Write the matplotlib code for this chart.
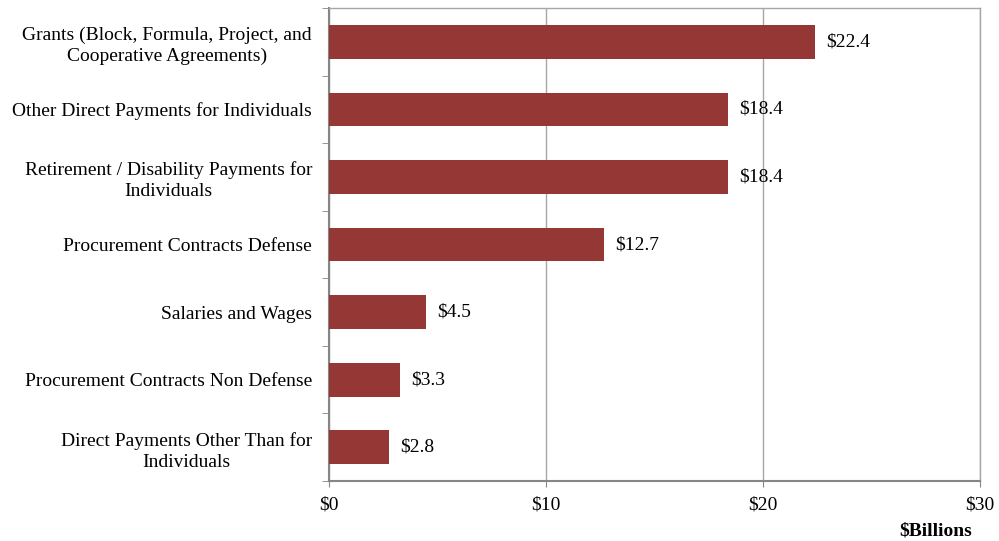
import numpy as np
import matplotlib.pyplot as plt

plt.rcParams['font.family'] = ['Liberation Serif', 'DejaVu Serif']

categories = [
    "Grants (Block, Formula, Project, and\nCooperative Agreements)",
    "Other Direct Payments for Individuals",
    "Retirement / Disability Payments for\nIndividuals",
    "Procurement Contracts Defense",
    "Salaries and Wages",
    "Procurement Contracts Non Defense",
    "Direct Payments Other Than for\nIndividuals",
]
values = [22.4, 18.4, 18.4, 12.7, 4.5, 3.3, 2.8]
xticks = [0, 10, 20, 30]
xtick_labels = ["$0", "$10", "$20", "$30"]

bar_color = "#953735"
grid_color = "#a6a6a6"
axis_color = "#868686"
fs = 14

fig = plt.figure(figsize=(9.99, 5.41), dpi=100)
ax = fig.add_axes([0.329, 0.111, 0.652, 0.874])

y = np.arange(len(categories))[::-1]
ax.barh(y, values, height=0.5, color=bar_color, zorder=3)

for yi, v in zip(y, values):
    ax.text(v + 0.5, yi, f"${v:.1f}", va="center", ha="left", fontsize=fs, color="black")

ax.set_xlim(0, 30)
ax.set_ylim(-0.5, len(categories) - 0.5)
ax.set_xticks(xticks)
ax.set_xticklabels(xtick_labels, fontsize=fs)
ax.set_yticks(y)
ax.set_yticklabels(categories, fontsize=fs, ha="right", multialignment="center", linespacing=1.3)
ax.tick_params(axis="y", length=0, pad=12)
ax.tick_params(axis="x", length=4, color=axis_color, pad=7)

# minor ticks between categories on y axis
ax.set_yticks(np.arange(-0.5, len(categories), 1.0), minor=True)
ax.tick_params(axis="y", which="minor", length=5, color=axis_color)

ax.xaxis.grid(True, color=grid_color, linewidth=1, zorder=0)
for side in ["left", "bottom"]:
    ax.spines[side].set_color(axis_color)
    ax.spines[side].set_linewidth(1.5)
for side in ["top", "right"]:
    ax.spines[side].set_color(grid_color)
    ax.spines[side].set_linewidth(1)

fig.text(0.937, 0.002, "$Billions", ha="center", va="bottom", fontsize=fs, fontweight="bold")

fig.savefig("out.png", dpi=100)
